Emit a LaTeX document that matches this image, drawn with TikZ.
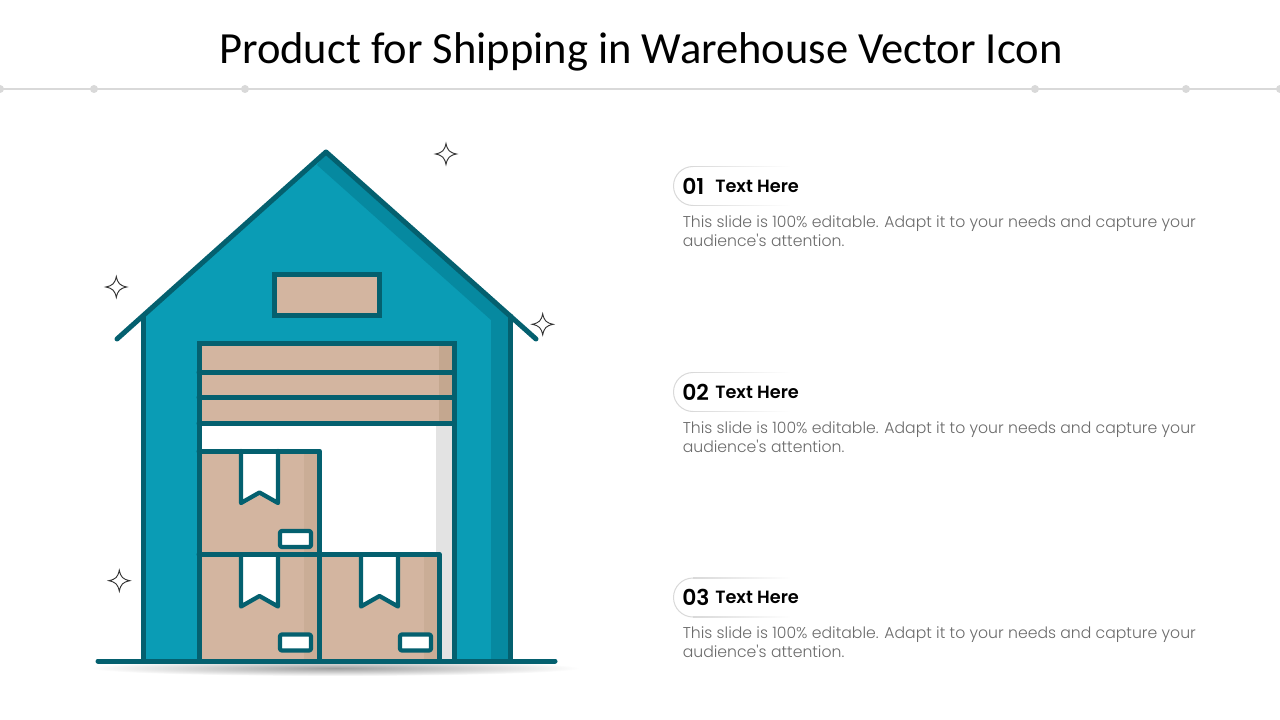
\documentclass[tikz,border=0pt]{standalone}
\usepackage{fontspec}
\setmainfont{Carlito}
\newfontfamily\bodyfont{Poppins Light}
\newfontfamily\headfont{Poppins SemiBold}
\usetikzlibrary{calc}
\definecolor{wallblue}{HTML}{0A9CB5}
\definecolor{shadeblue}{HTML}{0689A0}
\definecolor{linedark}{HTML}{04606F}
\definecolor{boxtan}{HTML}{D3B5A0}
\definecolor{boxshade}{HTML}{C4A78F}
\definecolor{stripe}{HTML}{E3E3E3}
\definecolor{rule}{HTML}{D9D9D9}
\definecolor{bodygray}{HTML}{6B6B6B}
\tikzset{
  outline/.style={draw=linedark,line width=3.75pt,line join=round,line cap=round},
  thinout/.style={draw=linedark,line width=3.2pt,line join=round,line cap=round},
  sparkle/.pic={\draw[draw=black!80,fill=white,line width=0.7pt]
    (0,-10.5) .. controls (1.5,-3.5) and (3.5,-1.5) .. (10.5,0) .. controls (3.5,1.5) and (1.5,3.5) .. (0,10.5)
    .. controls (-1.5,3.5) and (-3.5,1.5) .. (-10.5,0) .. controls (-3.5,-1.5) and (-1.5,-3.5) .. (0,-10.5) -- cycle;},
  dot/.style={circle,fill=rule,minimum size=6pt,inner sep=0pt},
  titletext/.style={font=\fontsize{33.4}{40}\selectfont,text=black},
  numtext/.style={font=\headfont\fontsize{16.4}{18}\selectfont,text=black,anchor=west,inner sep=0pt},
  headtext/.style={font=\headfont\fontsize{13.3}{16}\selectfont,text=black,anchor=west,inner sep=0pt},
  bodytext/.style={font=\bodyfont\fontsize{11.75}{14.25}\selectfont,text=bodygray,anchor=north west,inner sep=0pt,align=left},
  pill/.pic={
    \draw[draw=rule,line width=0.75pt] (20,19.5) arc (90:270:19.5);
    \shade[left color=rule,right color=white] (20,-19.9) rectangle (118,-19.1);
    \shade[left color=rule,right color=white] (20,19.1) rectangle (118,19.9);
  },
}
\newcommand{\crate}[2]{% x-left, y-top
  \begin{scope}[shift={(#1,#2)}]
  \fill[boxshade!60!boxtan] (105,0) rectangle (118,106);
  \fill[white] (42,0) -- (42,52) -- (60.5,41) -- (79,52) -- (79,0) -- cycle;
  \draw[thinout] (42,0) -- (42,52) -- (60.5,41.5) -- (79,52) -- (79,0);
  \draw[thinout,fill=white,rounded corners=1.5pt] (81,80) rectangle (112,96);
  \end{scope}}
\begin{document}
\begin{tikzpicture}[x=0.75pt,y=-0.75pt]
\useasboundingbox (0,0) rectangle (1280,720);
\fill[white] (0,0) rectangle (1280,720);
% header
\node[titletext] (title) at (641,52) {Product for Shipping in Warehouse Vector Icon};
\draw[rule,line width=1.6pt] (0,89) -- (1280,89);
\foreach \x in {0,94,245,1035,1186,1280} \node[dot] at (\x,89) {};
% ground shadow
\shade[inner color=black!38,outer color=white] (335,668) ellipse (245 and 8);
% house
\fill[wallblue] (143,661) -- (143,318) -- (326,152) -- (510.5,318) -- (510.5,661) -- cycle;
\fill[shadeblue] (326,152) -- (510.5,318) -- (510.5,661) -- (491,661) -- (491,320) -- (317,165) -- cycle;
\draw[outline] (143,661) -- (143,316);
\draw[outline] (510.5,661) -- (510.5,316);
\draw[outline] (117,339) -- (326,152) -- (536,339);
% window
\draw[outline,fill=boxtan,line cap=butt,line join=miter] (274,274) rectangle (379.5,315);
% door opening
\fill[white] (199,343) rectangle (454,661);
\fill[stripe] (436,423) rectangle (452,661);
% door slats
\fill[boxtan] (199,343) rectangle (454,423);
\fill[boxshade] (439,343) rectangle (452,423);
% boxes
\fill[boxtan] (199,451) rectangle (320,554);
\fill[boxtan] (199,554) rectangle (320,661);
\fill[boxtan] (320,554) rectangle (439,661);
\crate{199}{451}
\crate{199}{554.5}
\crate{319}{554.5}
\draw[outline,line join=miter] (199,661) -- (199,343) -- (454,343) -- (454,661);
\draw[outline] (199,372.3) -- (454,372.3);
\draw[outline] (199,397.3) -- (454,397.3);
\draw[outline] (199,423) -- (454,423);
\draw[outline] (199,451) -- (319.5,451) -- (319.5,661);
\draw[outline] (199,554.3) -- (439.3,554.3) -- (439.3,661);
\draw[outline] (98,661) -- (555,661);
% sparkles
\pic at (446,154) {sparkle};
\pic at (116.3,287) {sparkle};
\pic at (542.7,324.3) {sparkle};
\pic at (119.3,580.7) {sparkle};
% text blocks
\foreach \n/\y/\num in {a/186/01,b/392/02,c/597.5/03}{
  \pic at (673,\y) {pill};
  \node[numtext] (num\n) at (682,\y) {\num};
  \node[headtext] (head\n) at (715,\y) {Text Here};
  \node[bodytext] (body\n) at (682.5,\y+29) {This slide is 100\% editable. Adapt it to your needs and capture your\\audience's attention.};
}
\end{tikzpicture}
\end{document}
